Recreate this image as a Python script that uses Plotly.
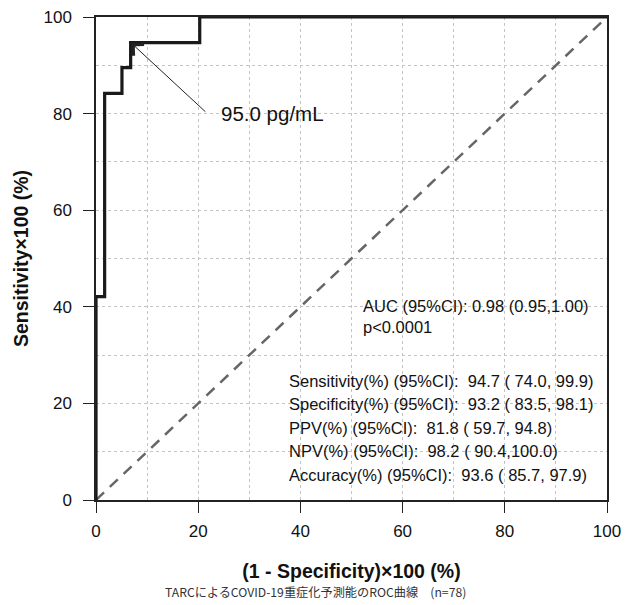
import plotly.graph_objects as go

# ROC curve (1 - specificity, sensitivity) in %
fpr = [0, 0, 1.69, 5.08, 6.78, 20.3, 100]
tpr = [0, 42.1, 84.2, 89.5, 94.7, 100, 100]

# reference diagonal
diag_x = [0, 100]
diag_y = [0, 100]

# cut-off point annotation
cut_point = (6.9, 94.6)
cut_label_pos = (21.7, 80.1)
cut_label = "95.0 pg/mL"

auc_lines = ["AUC (95%CI): 0.98 (0.95,1.00)", "p<0.0001"]
auc_y = [40.2, 35.8]
stat_lines = [
    "Sensitivity(%) (95%CI):  94.7 ( 74.0, 99.9)",
    "Specificity(%) (95%CI):  93.2 ( 83.5, 98.1)",
    "PPV(%) (95%CI):  81.8 ( 59.7, 94.8)",
    "NPV(%) (95%CI):  98.2 ( 90.4,100.0)",
    "Accuracy(%) (95%CI):  93.6 ( 85.7, 97.9)",
]
stat_y = [24.6, 19.8, 15.0, 10.1, 5.2]

tickvals = [0, 20, 40, 60, 80, 100]
ticktext = ["0", "20", "40", "60", "80", "100"]

caption = "TARCによるCOVID-19重症化予測能のROC曲線　(n=78)"

fig = go.Figure()
fig.add_trace(go.Scatter(
    x=diag_x, y=diag_y, mode="lines",
    line=dict(color="#666666", width=2.5, dash="11px,8px"),
    hoverinfo="skip", showlegend=False, cliponaxis=False))
fig.add_trace(go.Scatter(
    x=fpr, y=tpr, mode="lines", line_shape="hv",
    line=dict(color="#1a1a1a", width=3.2),
    showlegend=False, cliponaxis=False))

font_main = "Liberation Sans, Arial, sans-serif"

fig.add_annotation(
    x=cut_point[0], y=cut_point[1], ax=cut_label_pos[0], ay=cut_label_pos[1],
    xref="x", yref="y", axref="x", ayref="y", text="",
    showarrow=True, arrowhead=4, arrowsize=3, arrowwidth=1,
    arrowcolor="#222222", standoff=0)
fig.add_annotation(
    x=cut_label_pos[0] + 2.4, y=cut_label_pos[1], xref="x", yref="y",
    text=cut_label, showarrow=False, xanchor="left", yanchor="middle",
    font=dict(family=font_main, size=20.5, color="#111111"))

for t, yy in zip(auc_lines, auc_y):
    fig.add_annotation(x=51.8, y=yy, xref="x", yref="y", text=t,
                       showarrow=False, xanchor="left", yanchor="middle",
                       font=dict(family=font_main, size=16.5, color="#111111"))
for t, yy in zip(stat_lines, stat_y):
    fig.add_annotation(x=37.4, y=yy, xref="x", yref="y", text=t,
                       showarrow=False, xanchor="left", yanchor="middle",
                       font=dict(family=font_main, size=16.5, color="#111111"))

fig.add_annotation(x=0.4286, y=-0.1905, xref="paper", yref="paper", text=caption,
                   showarrow=False, xanchor="center", yanchor="middle",
                   font=dict(family="Noto Sans CJK JP", size=12.2, color="#333333"))

axis_common = dict(
    range=[0, 100], tickmode="array", tickvals=tickvals, ticktext=ticktext,
    ticks="outside", ticklen=11, tickwidth=1.2, tickcolor="#222222",
    showline=True, linecolor="#222222", linewidth=1.5, mirror=True,
    showgrid=True, gridcolor="#c4c4c4", griddash="dot", gridwidth=1,
    minor=dict(dtick=10, tick0=0, showgrid=True, gridcolor="#c4c4c4",
               griddash="dot", gridwidth=1, ticks=""),
    zeroline=False, automargin=False, ticklabeloverflow="allow",
    tickfont=dict(family=font_main, size=17, color="#111111"),
)

fig.update_xaxes(**axis_common, ticklabelstandoff=4,
                 title=dict(text="<b>(1 - Specificity)×100 (%)</b>", standoff=24,
                            font=dict(family=font_main, size=19.5, color="#111111")))
fig.update_yaxes(**axis_common, ticklabelstandoff=8,
                 title=dict(text="<b>Sensitivity×100 (%)</b>", standoff=10,
                            font=dict(family=font_main, size=19.5, color="#111111")))

# the page body adds an 8px offset; size the figure so the plot area lands in place
fig.update_layout(
    width=622, height=597,
    margin=dict(l=88, r=23, t=9, b=105),
    paper_bgcolor="white", plot_bgcolor="white",
    showlegend=False,
)

fig.write_html("out.html")
